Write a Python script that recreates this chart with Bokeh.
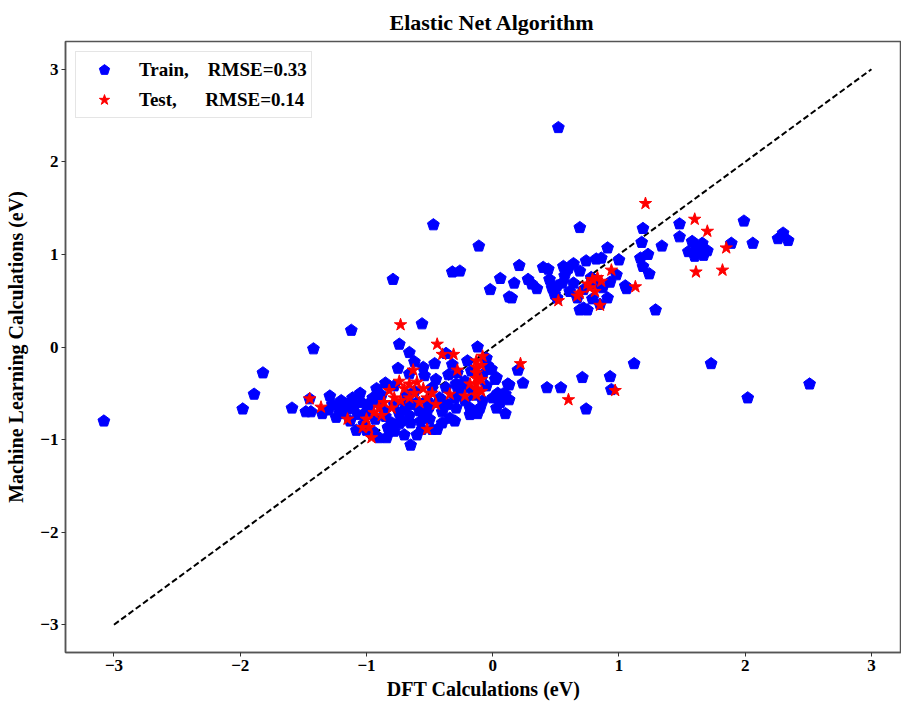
from bokeh.plotting import figure
from bokeh.models import ColumnDataSource, Legend, LegendItem, FixedTicker, Range1d
from bokeh.embed import file_html
from bokeh.resources import INLINE

title_text = "Elastic Net Algorithm"
x_label = "DFT Calculations (eV)"
y_label = "Machine Learning Calculations (eV)"
train_label = "Train,\u00a0\u00a0\u00a0\u00a0RMSE=0.33"
test_label = "Test,\u00a0\u00a0\u00a0\u00a0\u00a0\u00a0RMSE=0.14"

tick_values = [-3, -2, -1, 0, 1, 2, 3]
tick_labels = ["\u22123", "\u22122", "\u22121", "0", "1", "2", "3"]

diag = [-3, 3]

train_x = [
    -3.08, -1.98, -1.89, -1.82, -1.59, -1.48, -1.44, -1.45, -1.42, -1.12,
    -0.79, -0.47, -0.11, -0.32, -0.26, -0.56, -0.74, -0.66, -0.12, -0.62,
    -0.75, -0.46, -0.85, -0.65,
    -1.29, -1.27, -1.24, -1.15, -1.11, -1.04, -1.13, -1.07, -1.02, -0.95,
    -0.90, -0.84, -0.83, -0.78, -0.74, -0.74, -0.78,
    -0.37, -0.32, -0.66, -0.54, -0.17, -0.02, 0.03, -0.08, -0.18, -0.10,
    0.08, 0.03, 0.12, -0.18, -0.34, -0.50, -0.58, -0.66, -0.29, -0.22,
    -0.48, -0.56, -0.44, -0.37, -0.29, -0.42, -0.48, -0.22, -0.12,
    -0.90, -1.00, -0.85, -0.95, -0.65, -0.55, -0.40, -0.30, -0.25, -0.35,
    -0.45, -0.55, -0.20, -0.05, -0.05, 0.00, -0.60, -0.70, -0.80, -1.10,
    -1.20, -0.92, -1.05, -0.98, -0.88, -0.70, -0.60, -0.40, -0.30, -0.15,
    -0.08, -0.28, -0.62, -0.52, -1.35, -1.30, -1.18, -1.22, -0.78, -0.68,
    -1.00, -0.93, -0.86, -0.72, -0.64, -0.57, -0.50, -0.43, -0.36, -0.27,
    -0.20, -0.04, 0.06, -1.16, -1.08, -0.97, -0.82, -0.69, -0.52, -0.38,
    1.12, 1.73, 2.51, 2.02, 0.93, 0.94, 0.71, 0.74, 0.54, 0.43,
    0.24, 0.20, 0.13, 0.13, 0.10, 0.02, 0.04, -0.01, 0.10,
    0.52,
    0.69, 1.19, 1.48, 1.99, 1.48, 2.26, 2.30, 2.34, 2.06, 1.89,
    1.58, 1.66, 1.62, 1.55, 1.70, 1.60, 1.67, 1.34, 1.18, 1.23,
    1.17, 1.19, 1.24, 1.29, 0.91, 1.00, 1.05, 1.06,
    0.21, 0.06, -0.02, 0.17, 0.13, 0.15, 0.28, 0.31, 0.35, 0.40,
    0.44, 0.45, 0.47, 0.49, 0.56, 0.60, 0.57, 0.55, 0.51, 0.51,
    0.64, 0.69, 0.74, 0.82, 0.86,
    0.72, 0.75, 0.69, 0.79, 0.85, 0.91, 0.87, 0.81, 0.64, 0.61,
    0.67, 0.72, 0.78, 0.93, 0.98,
]
train_y = [
    -0.80, -0.67, -0.51, -0.28, -0.66, -0.70, -0.70, -0.56, -0.02, 0.18,
    0.73, 1.32, 1.09, 0.81, 0.82, 0.25, 0.03, -0.06, 0.00, -0.16,
    -0.23, -0.18, -0.39, -1.06,
    -0.53, -0.62, -0.76, -0.67, -0.55, -0.60, -0.80, -0.73, -0.83, -0.91,
    -0.98, -0.98, -0.87, -0.42, -0.72, -0.83, -0.91,
    -0.07, -0.19, -0.29, -0.31, -0.26, -0.24, -0.33, -0.58, -0.66, -0.66,
    -0.51, -0.66, -0.40, -0.73, -0.77, -0.78, -0.69, -0.74, -0.66, -0.58,
    -0.89, -0.89, -0.89, -0.44, -0.40, -0.55, -0.44, -0.37, -0.72,
    -0.60, -0.70, -0.75, -0.55, -0.82, -0.70, -0.70, -0.55, -0.45, -0.30,
    -0.35, -0.22, -0.15, -0.12, -0.42, -0.55, -0.60, -0.68, -0.82, -0.65,
    -0.58, -0.45, -0.50, -0.66, -0.52, -0.95, -0.95, -0.82, -0.80, -0.52,
    -0.30, -0.28, -0.48, -0.58, -0.72, -0.68, -0.72, -0.66, -0.62, -0.52,
    -0.90, -0.78, -0.68, -0.80, -0.62, -0.80, -0.64, -0.60, -0.62, -0.48,
    -0.44, -0.20, -0.60, -0.62, -0.90, -0.60, -0.90, -0.62, -0.70, -0.60,
    -0.18, -0.18, -0.40, -0.55, -0.32, -0.46, -0.33, -0.67, -0.44, -0.44,
    -0.39, -0.25, -0.41, -0.57, -0.72, -0.35, -0.50, -0.24, -0.51,
    2.37,
    1.29, 1.28, 1.33, 1.36, 1.19, 1.17, 1.23, 1.15, 1.12, 1.12,
    1.14, 1.12, 1.06, 1.03, 1.04, 0.98, 0.99, 1.09, 1.13, 1.00,
    0.96, 0.87, 0.79, 0.40, 1.07, 0.94, 0.66, 0.63,
    0.88, 0.74, 0.62, 0.69, 0.54, 0.53, 0.73, 0.68, 0.63, 0.86,
    0.84, 0.73, 0.64, 0.57, 0.87, 0.85, 0.77, 0.69, 0.66, 0.53,
    0.90, 0.82, 0.93, 0.95, 0.96,
    0.42, 0.40, 0.40, 0.52, 0.46, 0.53, 0.64, 0.68, 0.69, 0.60,
    0.53, 0.62, 0.75, 0.70, 0.78,
]

test_x = [
    -1.45, -1.36, -1.15, -1.00, -0.96, -0.94, -0.98, -1.03,
    -0.82, -0.74, -0.70, -0.66, -0.78, -0.86, -0.90, -0.88, -0.80, -0.73,
    -0.73, -0.44, -0.40, -0.31, -0.63, -0.08, -0.28,
    -0.13, -0.13, -0.13, -0.13, -0.13, -0.13, -0.13, -0.09, -0.09, -0.09,
    -0.62, -0.55, -0.58, -0.52, -0.48, -0.45, -0.66, -0.60,
    -0.18, -0.22, -0.34, -0.52,
    0.22, 0.60, 0.97,
    1.21, 1.60, 1.70, 1.85, 1.61, 1.82, 1.13, 0.94,
    0.52, 0.67, 0.69, 0.75, 0.79, 0.83, 0.86, 0.77, 0.81, 0.85,
]
test_y = [
    -0.56, -0.65, -0.78, -0.78, -0.98, -0.71, -0.87, -0.87,
    -0.47, -0.37, -0.45, -0.40, -0.55, -0.60, -0.65, -0.74, -0.66, -0.58,
    0.24, 0.03, -0.08, -0.08, -0.25, -0.10, -0.25,
    -0.15, -0.22, -0.28, -0.34, -0.40, -0.46, -0.52, -0.20, -0.35, -0.48,
    -0.50, -0.45, -0.60, -0.55, -0.50, -0.62, -0.55, -0.38,
    -0.40, -0.53, -0.51, -0.89,
    -0.18, -0.57, -0.47,
    1.55, 1.38, 1.25, 1.07, 0.81, 0.83, 0.65, 0.83,
    0.50, 0.55, 0.58, 0.68, 0.73, 0.75, 0.71, 0.64, 0.60, 0.45,
]

FONT = "Liberation Serif"

p = figure(width=901, height=702, output_backend="svg", toolbar_location=None,
           x_range=Range1d(-3.384, 3.238), y_range=Range1d(-3.3, 3.3),
           min_border_left=65, min_border_right=0, min_border_top=41,
           min_border_bottom=50)

p.title.text = title_text
p.title.align = "left"
p.title.offset = 324
p.title.text_font = FONT
p.title.text_font_style = "bold"
p.title.text_font_size = "22px"
p.title.text_color = "black"
p.title.standoff = 13

p.grid.visible = False
p.background_fill_color = "white"
p.border_fill_color = "white"
p.outline_line_color = "#555555"
p.outline_line_width = 1.5

for ax in (p.xaxis, p.yaxis):
    ax.ticker = FixedTicker(ticks=tick_values)
    ax.major_label_overrides = {v: t for v, t in zip(tick_values, tick_labels)}
    ax.minor_tick_line_color = None
    ax.major_tick_in = 0
    ax.major_tick_out = 4
    ax.axis_line_color = "#555555"
    ax.axis_line_width = 1.5
    ax.major_tick_line_color = "#333333"
    ax.major_label_text_font = FONT
    ax.major_label_text_font_style = "bold"
    ax.major_label_text_font_size = "17px"
    ax.major_label_text_color = "black"
    ax.axis_label_text_font = FONT
    ax.axis_label_text_font_style = "bold"
    ax.axis_label_text_color = "black"
    ax.major_label_standoff = 3

p.xaxis.axis_label = x_label
p.yaxis.axis_label = y_label
p.xaxis.axis_label_text_font_size = "20px"
p.yaxis.axis_label_text_font_size = "20px"
p.xaxis.axis_label_standoff = 4
p.yaxis.axis_label_standoff = 10

p.line(x=diag, y=diag, line_color="black", line_width=2, line_dash="6 3")

train_src = ColumnDataSource(dict(x=train_x, y=train_y))
test_src = ColumnDataSource(dict(x=test_x, y=test_y))

r_train = p.ngon(x="x", y="y", radius=6.2, radius_units="screen", n=5,
                 fill_color="#0000ff", line_color="#0000ff", line_width=1,
                 source=train_src)
r_test = p.scatter(x="x", y="y", marker="star", size=13,
                   fill_color="#ff0000", line_color="#ff0000",
                   source=test_src)

legend = Legend(items=[LegendItem(label=train_label, renderers=[r_train]),
                       LegendItem(label=test_label, renderers=[r_test])],
                location="top_left")
legend.label_text_font = FONT
legend.label_text_font_style = "bold"
legend.label_text_font_size = "19px"
legend.label_text_color = "black"
legend.padding = 4
legend.glyph_width = 48
legend.glyph_height = 27
legend.label_height = 27
legend.label_standoff = 11
legend.spacing = 3
legend.border_line_color = "#cccccc"
legend.border_line_width = 1
legend.background_fill_alpha = 0.8
p.add_layout(legend)

open("out.html", "w").write(file_html(p, INLINE))
